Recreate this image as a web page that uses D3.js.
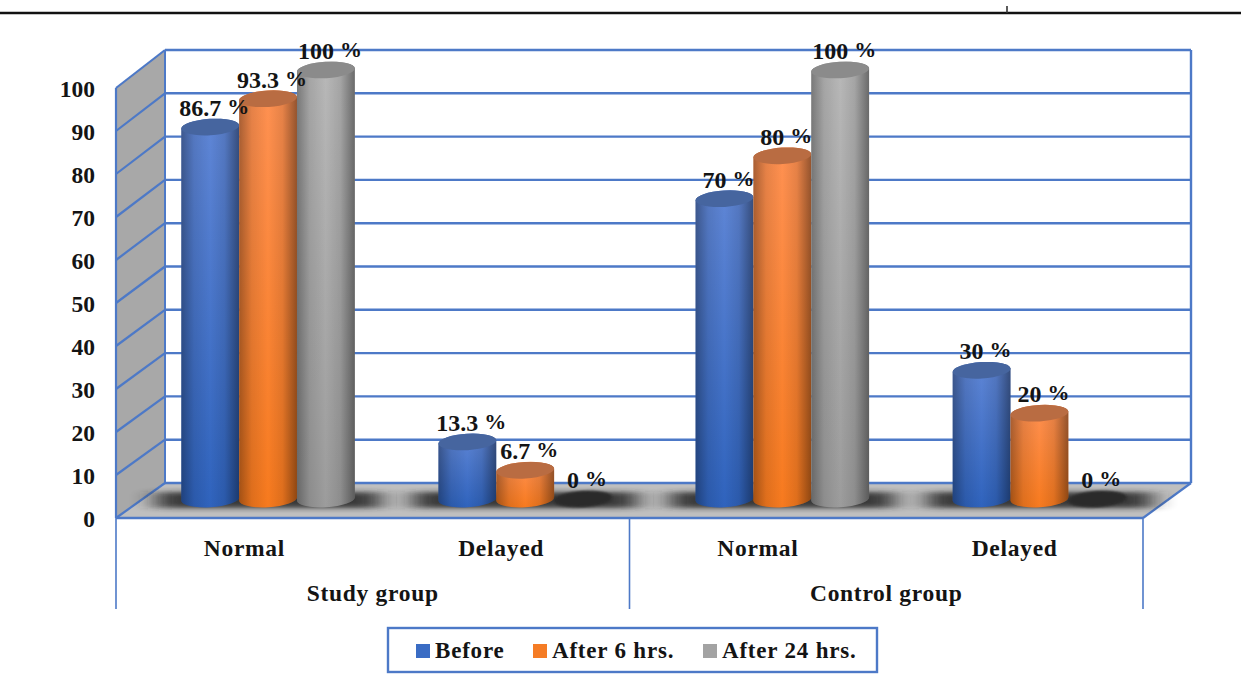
<!DOCTYPE html>
<html>
<head>
<meta charset="utf-8">
<script src="https://cdn.jsdelivr.net/npm/d3@7/dist/d3.min.js"></script>
<style>
html,body{margin:0;padding:0;background:#fff;overflow:hidden}
text{font-family:"Liberation Serif","Times New Roman",serif;font-weight:700;fill:#141414}
</style>
</head>
<body>
<svg id="chart" width="1241" height="682"></svg>
<script>
// Recovery rates per group and reading time
const groups = ["Study group", "Control group"];
const categories = ["Normal", "Delayed"];
const seriesNames = ["Before", "After 6 hrs.", "After 24 hrs."];
const beforeValues = [86.7, 13.3, 70, 30];
const after6Values = [93.3, 6.7, 80, 20];
const after24Values = [100, 0, 100, 0];
const yTicks = [0, 10, 20, 30, 40, 50, 60, 70, 80, 90, 100];

const seriesValues = [beforeValues, after6Values, after24Values];
const palette = [
  {top: "#46659f", light: "#5f86d6", dark: "#2f63bd"},
  {top: "#b96c42", light: "#ff9152", dark: "#f77a1e"},
  {top: "#8b8b8b", light: "#b8b8b8", dark: "#9c9c9c"}
];
const blue = "#4d79c7";

const svg = d3.select("#chart");
const defs = svg.append("defs");

defs.append("filter").attr("id", "soft")
  .attr("x", "-20%").attr("y", "-200%").attr("width", "140%").attr("height", "500%")
  .append("feGaussianBlur").attr("stdDeviation", "12 2.5");
defs.append("filter").attr("id", "softer")
  .append("feGaussianBlur").attr("stdDeviation", 1);

palette.forEach((p, i) => {
  const g = defs.append("linearGradient").attr("id", "body" + i)
    .attr("x1", 0).attr("y1", 0).attr("x2", 0).attr("y2", 1);
  g.append("stop").attr("offset", 0).attr("stop-color", p.light);
  g.append("stop").attr("offset", 1).attr("stop-color", p.dark);
});
const shade = defs.append("linearGradient").attr("id", "shade");
[[0, 0.34], [0.22, 0.1], [0.5, 0], [0.75, 0.1], [1, 0.42]].forEach(([o, a]) =>
  shade.append("stop").attr("offset", o).attr("stop-color", "#000").attr("stop-opacity", a));

// Three vertical scales: the front edge, the back wall and the floor centre line
const yFront = d3.scaleLinear().domain([0, 100]).range([518, 88]);
const yBack = d3.scaleLinear().domain([0, 100]).range([483, 50]);
const yBar = d3.scaleLinear().domain([0, 100]).range([499, 70]);

const flatCats = groups.flatMap(g => categories.map(c => g + "|" + c));
const xFront = d3.scaleBand().domain(flatCats).range([116, 1143]);
const xMid = d3.scaleBand().domain(flatCats).range([139.5, 1168]);
const barW = xMid.bandwidth() * 0.225;
const xGroup = d3.scaleBand().domain(groups).range([116, 1143]);
const seriesOffset = i => xMid.bandwidth() / 2 + (i - 1) * barW;

const depth = 48;
const left = xFront.range()[0], right = xFront.range()[1];

// Floor and side wall
svg.append("polygon")
  .attr("points", [[left, yFront(0)], [right, yFront(0)], [right + depth, yBack(0)], [left + 49, yBack(0)]].join(" "))
  .attr("fill", "#bfbfbf");
svg.append("polygon")
  .attr("points", [[left, yFront(100)], [left + 49, yBack(100)], [left + 49, yBack(0)], [left, yFront(0)]].join(" "))
  .attr("fill", "#a8a8a8");

// Grid on both walls
yTicks.forEach(v => {
  svg.append("line").attr("x1", left + 49).attr("x2", right + depth)
    .attr("y1", yBack(v)).attr("y2", yBack(v))
    .attr("stroke", blue).attr("stroke-width", 2.4);
  svg.append("line").attr("x1", left).attr("x2", left + 49)
    .attr("y1", yFront(v)).attr("y2", yBack(v))
    .attr("stroke", blue).attr("stroke-width", 2.2);
});
svg.append("line").attr("x1", left + 49).attr("x2", left + 49)
  .attr("y1", yBack(100)).attr("y2", yBack(0)).attr("stroke", blue).attr("stroke-width", 2);
svg.append("line").attr("x1", right + depth).attr("x2", right + depth)
  .attr("y1", yBack(100)).attr("y2", yBack(0)).attr("stroke", blue).attr("stroke-width", 2.4);
svg.append("line").attr("x1", left).attr("x2", left)
  .attr("y1", yFront(100)).attr("y2", yFront(0)).attr("stroke", blue).attr("stroke-width", 2.2);
svg.append("line").attr("x1", right).attr("x2", right + depth)
  .attr("y1", yFront(0)).attr("y2", yBack(0)).attr("stroke", blue).attr("stroke-width", 2.2);
svg.append("line").attr("x1", left).attr("x2", right)
  .attr("y1", yFront(0)).attr("y2", yFront(0)).attr("stroke", blue).attr("stroke-width", 2.6);

// Soft floor shadow under each cluster
svg.append("g").selectAll("rect").data(flatCats).join("rect")
  .attr("x", d => xMid(d) + xMid.bandwidth() / 2 - 112)
  .attr("width", 224)
  .attr("y", yBar(0) - 7).attr("height", 16)
  .attr("fill", "#2a2a2a").attr("opacity", 0.9)
  .attr("filter", "url(#soft)");

// Cylinders, drawn left to right so each one overlaps the previous
const tilt = -3.5, sinT = Math.sin(tilt * Math.PI / 180);
const ry = 8.2;
const marks = svg.append("g");
flatCats.forEach((cat, c) => {
  seriesNames.forEach((name, s) => {
    const v = seriesValues[s][c];
    const cx = xMid(cat) + seriesOffset(s);
    const r = barW / 2;
    const dy = r * sinT;
    const yT = yBar(v), yB = yBar(0);
    if (v === 0) {
      marks.append("ellipse").attr("cx", cx).attr("cy", yB).attr("rx", r).attr("ry", ry)
        .attr("transform", `rotate(${tilt} ${cx} ${yB})`)
        .attr("fill", "#2c2c2c").attr("filter", "url(#softer)");
      return;
    }
    const body =
      `M${cx - r},${yT - dy}L${cx - r},${yB - dy}` +
      `A${r},${ry} ${tilt} 0 0 ${cx + r},${yB + dy}` +
      `L${cx + r},${yT + dy}` +
      `A${r},${ry} ${tilt} 0 0 ${cx - r},${yT - dy}Z`;
    marks.append("path").attr("d", body).attr("fill", `url(#body${s})`);
    marks.append("path").attr("d", body).attr("fill", "url(#shade)");
    marks.append("ellipse").attr("cx", cx).attr("cy", yT).attr("rx", r).attr("ry", ry)
      .attr("transform", `rotate(${tilt} ${cx} ${yT})`)
      .attr("fill", palette[s].top);
  });
});

// Value labels above each cylinder
flatCats.forEach((cat, c) => {
  seriesNames.forEach((name, s) => {
    const v = seriesValues[s][c];
    const t = svg.append("text")
      .attr("x", xMid(cat) + seriesOffset(s) + 4)
      .attr("y", yBar(v) - 11)
      .attr("text-anchor", "middle")
      .style("font-size", "24px")
      .text(v + " ");
    t.append("tspan").attr("dy", -2).style("font-size", "22px").text("%");
  });
});

// Value axis
const axisG = svg.append("g").attr("transform", "translate(100,1)")
  .call(d3.axisLeft(yFront).tickValues(yTicks).tickSize(0).tickPadding(5));
axisG.select(".domain").remove();
axisG.selectAll("text").style("font-size", "23.5px")
  .style("font-family", '"Liberation Serif"').style("font-weight", 700).attr("fill", "#141414");

// Two-level category axis
xGroup.domain().concat([null]).forEach(g => {
  const x = g === null ? right : xGroup(g);
  svg.append("line").attr("x1", x).attr("x2", x)
    .attr("y1", yFront(0)).attr("y2", 609)
    .attr("stroke", blue).attr("stroke-width", 1.6);
});
svg.append("g").selectAll("text").data(flatCats).join("text")
  .attr("x", d => xFront(d) + xFront.bandwidth() / 2)
  .attr("y", 556)
  .attr("text-anchor", "middle")
  .style("font-size", "23.5px").style("letter-spacing", "0.7px")
  .text(d => d.split("|")[1]);
svg.append("g").selectAll("text").data(groups).join("text")
  .attr("x", d => xGroup(d) + xGroup.bandwidth() / 2)
  .attr("y", 601)
  .attr("text-anchor", "middle")
  .style("font-size", "23.5px").style("letter-spacing", "0.7px")
  .text(d => d);

// Legend
svg.append("rect").attr("x", 388).attr("y", 628).attr("width", 489).attr("height", 44)
  .attr("fill", "#fff").attr("stroke", blue).attr("stroke-width", 2.4);
const legendX = d3.scaleOrdinal().domain(seriesNames).range([416, 533, 703]);
const legend = svg.append("g").selectAll("g").data(seriesNames).join("g")
  .attr("transform", d => `translate(${legendX(d)},644)`);
legend.append("rect").attr("width", 14).attr("height", 14)
  .attr("fill", (d, i) => ["#3a6cc4", "#f57c25", "#a3a3a3"][i]);
legend.append("text").attr("x", 19).attr("y", 14)
  .style("font-size", "23px").style("letter-spacing", "0.8px")
  .text(d => d);

// Header rule
svg.append("line").attr("x1", 0).attr("x2", 1241).attr("y1", 13).attr("y2", 13)
  .attr("stroke", "#111").attr("stroke-width", 2.4);
svg.append("line").attr("x1", 1007).attr("x2", 1007).attr("y1", 6).attr("y2", 13)
  .attr("stroke", "#333").attr("stroke-width", 1.6);
</script>
</body>
</html>
